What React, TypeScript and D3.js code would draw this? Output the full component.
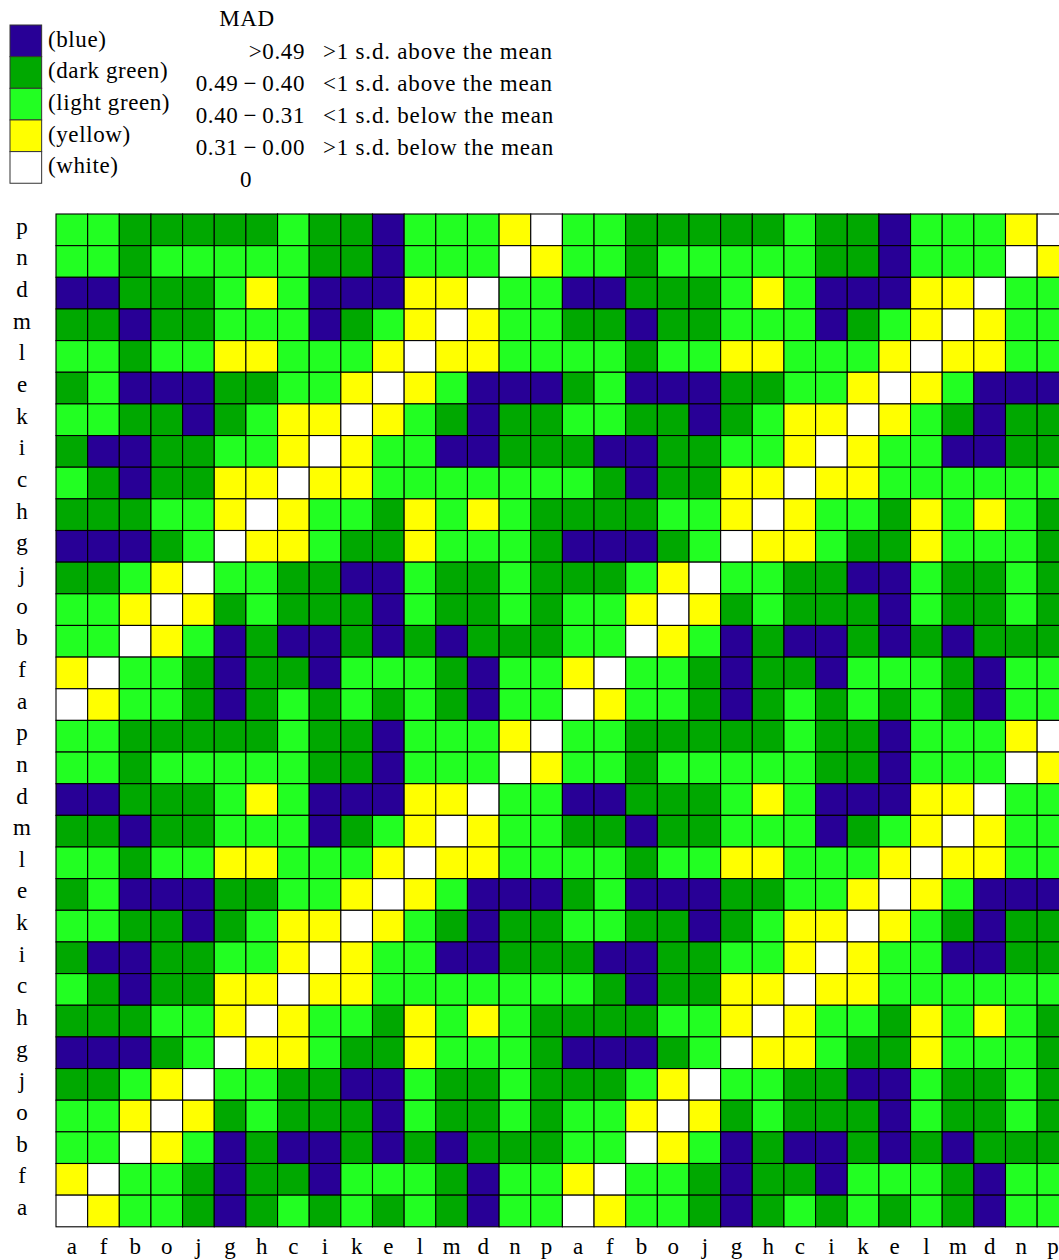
import React from 'react';
import * as d3 from 'd3';

// Row labels (top to bottom) and column labels (left to right)
const rowLabels = [
  'p', 'n', 'd', 'm', 'l', 'e', 'k', 'i', 'c', 'h', 'g', 'j', 'o', 'b', 'f', 'a',
  'p', 'n', 'd', 'm', 'l', 'e', 'k', 'i', 'c', 'h', 'g', 'j', 'o', 'b', 'f', 'a',
];
const colLabels = [
  'a', 'f', 'b', 'o', 'j', 'g', 'h', 'c', 'i', 'k', 'e', 'l', 'm', 'd', 'n', 'p',
  'a', 'f', 'b', 'o', 'j', 'g', 'h', 'c', 'i', 'k', 'e', 'l', 'm', 'd', 'n', 'p',
];

// MAD class per cell: B=blue, D=dark green, L=light green, Y=yellow, W=white
const cellClasses = [
  'LLDDDDDLDDBLLLYWLLDDDDDLDDBLLLYW',
  'LLDLLLLLDDBLLLWYLLDLLLLLDDBLLLWY',
  'BBDDDLYLBBBYYWLLBBDDDLYLBBBYYWLL',
  'DDBDDLLLBDLYWYLLDDBDDLLLBDLYWYLL',
  'LLDLLYYLLLYWYYLLLLDLLYYLLLYWYYLL',
  'DLBBBDDLLYWYLBBBDLBBBDDLLYWYLBBB',
  'LLDDBDLYYWYLDBDDLLDDBDLYYWYLDBDD',
  'DBBDDLLYWYLLBBDDDBBDDLLYWYLLBBDD',
  'LDBDDYYWYYLLLLLLLDBDDYYWYYLLLLLL',
  'DDDLLYWYLLDYLYLDDDDLLYWYLLDYLYLD',
  'BBBDLWYYLDDYLLLDBBBDLWYYLDDYLLLD',
  'DDLYWLLDDBBLDDLDDDLYWLLDDBBLDDLD',
  'LLYWYDLDDDBLDDLDLLYWYDLDDDBLDDLD',
  'LLWYLBDBBDBDBDDDLLWYLBDBBDBDBDDD',
  'YWLLDBDDBLLLDBLLYWLLDBDDBLLLDBLL',
  'WYLLDBDLDLDLDBLLWYLLDBDLDLDLDBLL',
  'LLDDDDDLDDBLLLYWLLDDDDDLDDBLLLYW',
  'LLDLLLLLDDBLLLWYLLDLLLLLDDBLLLWY',
  'BBDDDLYLBBBYYWLLBBDDDLYLBBBYYWLL',
  'DDBDDLLLBDLYWYLLDDBDDLLLBDLYWYLL',
  'LLDLLYYLLLYWYYLLLLDLLYYLLLYWYYLL',
  'DLBBBDDLLYWYLBBBDLBBBDDLLYWYLBBB',
  'LLDDBDLYYWYLDBDDLLDDBDLYYWYLDBDD',
  'DBBDDLLYWYLLBBDDDBBDDLLYWYLLBBDD',
  'LDBDDYYWYYLLLLLLLDBDDYYWYYLLLLLL',
  'DDDLLYWYLLDYLYLDDDDLLYWYLLDYLYLD',
  'BBBDLWYYLDDYLLLDBBBDLWYYLDDYLLLD',
  'DDLYWLLDDBBLDDLDDDLYWLLDDBBLDDLD',
  'LLYWYDLDDDBLDDLDLLYWYDLDDDBLDDLD',
  'LLWYLBDBBDBDBDDDLLWYLBDBBDBDBDDD',
  'YWLLDBDDBLLLDBLLYWLLDBDDBLLLDBLL',
  'WYLLDBDLDLDLDBLLWYLLDBDLDLDLDBLL',
];

// Legend
const legendClasses = ['B', 'D', 'L', 'Y', 'W'];
const legendNames = ['(blue)', '(dark green)', '(light green)', '(yellow)', '(white)'];
const legendRanges = ['>0.49', '0.49\u2009\u2212\u20090.40', '0.40\u2009\u2212\u20090.31', '0.31\u2009\u2212\u20090.00', '0'];
const legendNotes = [
  '>1 s.d. above the mean',
  '<1 s.d. above the mean',
  '<1 s.d. below the mean',
  '>1 s.d. below the mean',
  '',
];
const legendTitle = 'MAD';

const classColors: Record<string, string> = {
  B: '#280096',
  D: '#00a800',
  L: '#22ff22',
  Y: '#ffff00',
  W: '#ffffff',
};

const FONT = '"Liberation Serif", "Times New Roman", serif';

export default function App() {
  const cell = 31.65;
  const x0 = 56;
  const y0 = 214;
  const nCols = colLabels.length;
  const nRows = rowLabels.length;

  const x = d3.scaleBand<number>().domain(d3.range(nCols)).range([x0, x0 + nCols * cell]);
  const y = d3.scaleBand<number>().domain(d3.range(nRows)).range([y0, y0 + nRows * cell]);

  const legY = d3.scaleBand<number>().domain(d3.range(legendClasses.length)).range([25, 25 + legendClasses.length * cell]);
  const rangeY = d3.scalePoint<number>().domain(d3.range(legendRanges.length)).range([58.5, 58.5 + 4 * 32]);

  const cells: { r: number; c: number; k: string }[] = [];
  cellClasses.forEach((row, r) => {
    row.split('').forEach((k, c) => cells.push({ r, c, k }));
  });

  return (
    <svg
      width={1059}
      height={1260}
      style={{ position: 'absolute', left: 0, top: 0, background: '#fff' }}
      fontFamily={FONT}
    >
      {/* Legend boxes */}
      {legendClasses.map((k, i) => (
        <g key={'lg' + i}>
          <rect
            x={10}
            y={legY(i)!}
            width={legY.bandwidth()}
            height={legY.bandwidth()}
            fill={classColors[k]}
            stroke="#333"
            strokeWidth={1}
          />
          <text
            x={48}
            y={legY(i)! + legY.bandwidth() / 2 + 6}
            fontSize={23}
            letterSpacing={0.6}
            fill="#000"
          >
            {legendNames[i]}
          </text>
        </g>
      ))}
      <text x={247} y={26} fontSize={23} textAnchor="middle" letterSpacing={0.6}>
        {legendTitle}
      </text>
      {legendRanges.map((t, i) => (
        <g key={'lr' + i}>
          <text
            x={i === legendRanges.length - 1 ? 246 : 305}
            y={rangeY(i)!}
            fontSize={23}
            textAnchor={i === legendRanges.length - 1 ? 'middle' : 'end'}
            letterSpacing={0.6}
          >
            {t}
          </text>
          {legendNotes[i] && (
            <text x={323} y={rangeY(i)!} fontSize={23} letterSpacing={0.8}>
              {legendNotes[i]}
            </text>
          )}
        </g>
      ))}

      {/* Heatmap cells */}
      {cells.map((d) => (
        <rect
          key={d.r + '-' + d.c}
          x={x(d.c)!}
          y={y(d.r)!}
          width={x.bandwidth()}
          height={y.bandwidth()}
          fill={classColors[d.k]}
          stroke="#000"
          strokeWidth={1.1}
        />
      ))}

      {/* Row labels */}
      {rowLabels.map((t, i) => (
        <text
          key={'rl' + i}
          x={22}
          y={y(i)! + y.bandwidth() / 2 + 4}
          fontSize={23}
          textAnchor="middle"
        >
          {t}
        </text>
      ))}

      {/* Column labels */}
      {colLabels.map((t, i) => (
        <text
          key={'cl' + i}
          x={x(i)! + x.bandwidth() / 2}
          y={1254}
          fontSize={23}
          textAnchor="middle"
        >
          {t}
        </text>
      ))}
    </svg>
  );
}
